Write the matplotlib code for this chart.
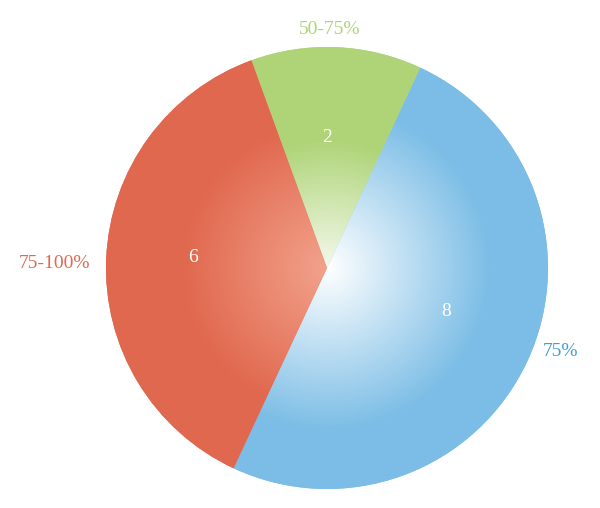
import numpy as np
import matplotlib
matplotlib.use("Agg")
import matplotlib.pyplot as plt
from matplotlib.colors import to_rgb

# ---- data ----
categories = ["50-75%", "75%", "75-100%"]
values = [2, 8, 6]

# ---- styles / layout ----
outer_colors = ["#aed477", "#7bbde6", "#e0684e"]
inner_colors = ["#f4f9ec", "#ffffff", "#f3a28c"]
label_colors = ["#aed477", "#3d9fd9", "#dc6a50"]
grad_extent = [0.58, 0.74, 0.66]

W, H = 600, 508
CX, CY, R = 327, 240, 221
START = 110

fig = plt.figure(figsize=(W / 100, H / 100), dpi=100)
ax = fig.add_axes([0, 0, 1, 1])

wedges, _ = ax.pie(values, radius=R, center=(CX, CY), startangle=START,
                   counterclock=False, colors=outer_colors, frame=True,
                   wedgeprops=dict(linewidth=0))

# radial gradients clipped to each wedge
yy, xx = np.mgrid[0:H:1.0, 0:W:1.0]
rr = np.hypot(xx - CX, yy - CY)
for w, c_in, c_out, ext in zip(wedges, inner_colors, outer_colors, grad_extent):
    t = np.clip(rr / (ext * R), 0, 1)[..., None]
    cin = np.array(to_rgb(c_in))
    cout = np.array(to_rgb(c_out))
    img = cin * (1 - t) + cout * t
    im = ax.imshow(img, extent=(0, W, 0, H), origin="lower", zorder=2,
                   interpolation="bilinear")
    im.set_clip_path(w)

font = "Liberation Serif"

# outer category labels
outer_pos = [(330, 478), (561, 157), (55, 245)]
for (x, y), lab, col in zip(outer_pos, categories, label_colors):
    ax.text(x, y, lab, ha="center", va="center", color=col,
            fontsize=14, family=font, zorder=5)

# inner value labels
inner_pos = [(327, 370), (446, 197), (193, 251)]
for (x, y), v in zip(inner_pos, values):
    ax.text(x, y, str(v), ha="center", va="center", color="white",
            fontsize=14, family=font, zorder=5)

ax.set_xlim(0, W)
ax.set_ylim(0, H)
ax.set_aspect("equal")
ax.axis("off")

fig.savefig("out.png", dpi=100)
